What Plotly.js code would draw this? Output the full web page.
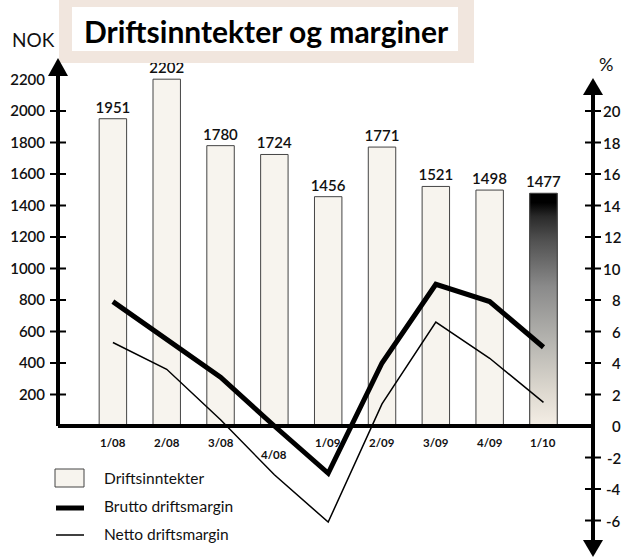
<!DOCTYPE html>
<html>
<head>
<meta charset="utf-8">
<script src="https://cdn.plot.ly/plotly-3.0.1.min.js"></script>
<style>html,body{margin:0;padding:0;background:#fff;}#chart{width:625px;height:557px;}</style>
</head>
<body>
<div id="chart"></div>
<script>
// ---- data ----
const categories = ['1/08','2/08','3/08','4/08','1/09','2/09','3/09','4/09','1/10'];
const revenue    = [1951, 2202, 1780, 1724, 1456, 1771, 1521, 1498, 1477];   // NOK (mill.)
const brutto     = [7.9, 5.5, 3.1, 0.0, -3.0, 4.0, 9.0, 7.9, 5.0];          // %
const netto      = [5.3, 3.6, 0.4, -3.1, -6.1, 1.4, 6.6, 4.3, 1.5];         // %
const leftTicks  = [200, 400, 600, 800, 1000, 1200, 1400, 1600, 1800, 2000, 2200];
const rightTicks = [20, 18, 16, 14, 12, 10, 8, 6, 4, 2, 0, -2, -4, -6];
const seriesNames = ['Driftsinntekter', 'Brutto driftsmargin', 'Netto driftsmargin'];
const titleText = 'Driftsinntekter og marginer';

// ---- geometry / styling ----
const W = 625, H = 557;
const M = {l: 58, r: 32, t: 58, b: 0};
const plotW = W - M.l - M.r, plotH = H - M.t - M.b;
const X = px => (px - M.l) / plotW;          // pixel -> paper x
const Y = py => (H - M.b - py) / plotH;      // pixel -> paper y
const yLeftRange = [-831.7, 2336.5];
const yRightRange = [yLeftRange[0] / 100, yLeftRange[1] / 100];
const xRange = [-1.02, 8.92];
const barW = 0.51;
const idx = categories.map((c, i) => i);
const fontFam = 'Lato, "Open Sans", sans-serif';
const barFill = '#f7f4ee';
const barLine = '#444';

const traces = [];
traces.push({
  type: 'bar', x: idx, y: revenue, width: barW, yaxis: 'y',
  marker: {color: barFill, line: {color: barLine, width: 1}},
  text: revenue.map(String), textposition: 'outside', cliponaxis: false, constraintext: 'none',
  textfont: {family: fontFam, size: 15, color: '#111', weight: 600},
  name: seriesNames[0], hoverinfo: 'x+y', showlegend: false
});
// gradient fill for latest quarter
const li = revenue.length - 1;
traces.push({
  type: 'scatter', mode: 'lines', yaxis: 'y',
  x: [li - barW/2, li + barW/2, li + barW/2, li - barW/2, li - barW/2],
  y: [0, 0, revenue[li], revenue[li], 0],
  fill: 'toself',
  fillgradient: {type: 'vertical', colorscale: [
    [0, '#f4eee5'], [0.15, '#ddd8cf'], [0.35, '#b8b7b2'], [0.6, '#8a8a8a'],
    [0.8, '#505050'], [0.9, '#2a2a2a'], [0.96, '#000000'], [1, '#000000']]},
  line: {color: barLine, width: 1}, hoverinfo: 'skip', showlegend: false
});
traces.push({
  type: 'scatter', mode: 'lines', x: idx, y: brutto, yaxis: 'y2',
  line: {color: '#000', width: 5}, name: seriesNames[1], showlegend: false, cliponaxis: false
});
traces.push({
  type: 'scatter', mode: 'lines', x: idx, y: netto, yaxis: 'y2',
  line: {color: '#000', width: 1.5}, name: seriesNames[2], showlegend: false, cliponaxis: false
});

const shapes = [];
const annotations = [];

// title box
shapes.push({type: 'rect', xref: 'paper', yref: 'paper', x0: X(59), x1: X(474), y0: Y(63), y1: Y(0),
  fillcolor: '#f1e6de', line: {width: 0}, layer: 'above'});
shapes.push({type: 'rect', xref: 'paper', yref: 'paper', x0: X(72), x1: X(458), y0: Y(51), y1: Y(7),
  fillcolor: '#ffffff', line: {width: 0}, layer: 'above'});
annotations.push({xref: 'paper', yref: 'paper', x: X(82), y: Y(31), xanchor: 'left', yanchor: 'middle',
  text: '<b>' + titleText + '</b>', showarrow: false, font: {family: fontFam, size: 30, color: '#000'}});

// zero line
shapes.push({type: 'line', xref: 'paper', yref: 'y', x0: 0, x1: 1, y0: 0, y1: 0, line: {color: '#000', width: 4}});
// left axis line + arrow
shapes.push({type: 'line', xref: 'paper', yref: 'paper', x0: 0, x1: 0, y0: Y(426), y1: Y(70), line: {color: '#000', width: 4}});
shapes.push({type: 'path', xref: 'paper', yref: 'paper', xsizemode: 'pixel', ysizemode: 'pixel',
  xanchor: 0, yanchor: 1, path: 'M -10 -18 L 10 -18 L 0 0 Z', fillcolor: '#000', line: {width: 0}});
// right axis line + arrows
shapes.push({type: 'line', xref: 'paper', yref: 'paper', x0: 1, x1: 1, y0: Y(545), y1: Y(90), line: {color: '#000', width: 4}});
shapes.push({type: 'path', xref: 'paper', yref: 'paper', xsizemode: 'pixel', ysizemode: 'pixel',
  xanchor: 1, yanchor: Y(78), path: 'M -10 -17 L 10 -17 L 0 0 Z', fillcolor: '#000', line: {width: 0}});
shapes.push({type: 'path', xref: 'paper', yref: 'paper', xsizemode: 'pixel', ysizemode: 'pixel',
  xanchor: 1, yanchor: 0, path: 'M -10 17 L 10 17 L 0 0 Z', fillcolor: '#000', line: {width: 0}});

// tick marks
leftTicks.filter(v => v < 2200).forEach(v => shapes.push({type: 'line', xref: 'paper', yref: 'y',
  xsizemode: 'pixel', xanchor: 0, x0: -8, x1: 8, y0: v, y1: v, line: {color: '#000', width: 2}}));
rightTicks.filter(v => v !== 0).forEach(v => shapes.push({type: 'line', xref: 'paper', yref: 'y2',
  xsizemode: 'pixel', xanchor: 1, x0: -8, x1: 8, y0: v, y1: v, line: {color: '#000', width: 2}}));

// right tick labels (right aligned)
rightTicks.forEach(v => annotations.push({xref: 'paper', yref: 'y2', x: X(623), y: v,
  xanchor: 'right', yanchor: 'middle', text: String(v), showarrow: false,
  font: {family: fontFam, size: 15, color: '#111', weight: 600}}));

// category labels
categories.forEach((c, i) => annotations.push({xref: 'x', yref: 'y', x: i, y: 0,
  xanchor: 'center', yanchor: 'top', yshift: (i === 3 ? -20 : -8), text: '<b>' + c + '</b>', showarrow: false,
  font: {family: fontFam, size: 11.5, color: '#111'}}));

// unit labels
annotations.push({xref: 'paper', yref: 'paper', x: X(33), y: Y(40), xanchor: 'center', yanchor: 'middle',
  text: 'NOK', showarrow: false, font: {family: fontFam, size: 19, color: '#111'}});
annotations.push({xref: 'paper', yref: 'paper', x: X(606), y: Y(64), xanchor: 'center', yanchor: 'middle',
  text: '%', showarrow: false, font: {family: fontFam, size: 18, color: '#111'}});

// manual legend
shapes.push({type: 'rect', xref: 'paper', yref: 'paper', x0: X(55), x1: X(84), y0: Y(487), y1: Y(469),
  fillcolor: barFill, line: {color: barLine, width: 1}});
shapes.push({type: 'line', xref: 'paper', yref: 'paper', x0: X(56), x1: X(84), y0: Y(508), y1: Y(508),
  line: {color: '#000', width: 5}});
shapes.push({type: 'line', xref: 'paper', yref: 'paper', x0: X(56), x1: X(84), y0: Y(535), y1: Y(535),
  line: {color: '#000', width: 1.5}});
[478, 506, 534].forEach((py, k) => annotations.push({xref: 'paper', yref: 'paper', x: X(102), y: Y(py),
  xanchor: 'left', yanchor: 'middle', text: seriesNames[k], showarrow: false,
  font: {family: fontFam, size: 15.5, color: '#111'}}));

const layout = {
  width: W, height: H, margin: M,
  paper_bgcolor: '#fff', plot_bgcolor: '#fff',
  showlegend: false,
  xaxis: {range: xRange, showgrid: false, zeroline: false, showticklabels: false, ticks: '', showline: false, fixedrange: true},
  yaxis: {range: yLeftRange, showgrid: false, zeroline: false, showline: false, ticks: '',
    tickvals: leftTicks, ticktext: leftTicks.map(String), ticklabelstandoff: 12,
    tickfont: {family: fontFam, size: 15, color: '#111', weight: 600}},
  yaxis2: {range: yRightRange, overlaying: 'y', side: 'right', showgrid: false, zeroline: false,
    showline: false, ticks: '', showticklabels: false},
  shapes: shapes, annotations: annotations
};

Plotly.newPlot('chart', traces, layout, {displayModeBar: false, staticPlot: true});
</script>
</body>
</html>
